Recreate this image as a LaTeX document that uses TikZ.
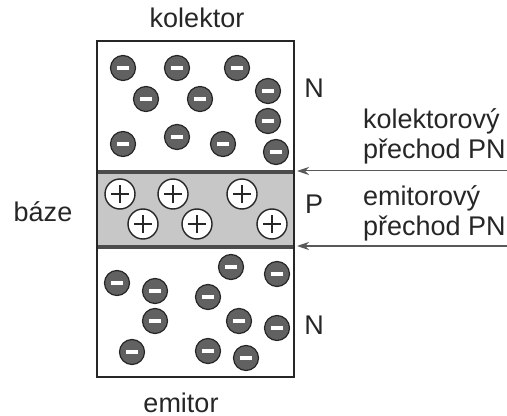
\documentclass[tikz,border=0pt]{standalone}
\usepackage{fontspec}
\setmainfont{Liberation Sans}
\usetikzlibrary{arrows.meta}

\begin{document}
\begin{tikzpicture}[x=.5pt,y=-.5pt,font=\fontsize{13.5}{15}\selectfont,text=black!85,
 electron/.style={circle,draw=black!85,fill=black!62,line width=.6pt,minimum size=12.5pt,inner sep=0pt,
  path picture={\fill[white] (path picture bounding box.center) ++(-3pt,-.8pt) rectangle ++(6pt,1.6pt);}},
 hole/.style={circle,draw=black!85,fill=white,line width=.7pt,minimum size=15pt,inner sep=0pt,
  path picture={\draw[line width=.7pt] (path picture bounding box.center) ++(-4.5pt,0) -- ++(9pt,0)
   (path picture bounding box.center) ++(0,-4.5pt) -- ++(0,9pt);}},
 junction/.style={black!70,line width=2pt},
 ptr/.style={draw=black!65,line width=.5pt,-{Stealth[length=6pt,width=4pt]}}]
\useasboundingbox (0,0) rectangle (507,416);
\fill[black!22] (97,172) rectangle (294,247);
\draw[junction] (97,172) -- (294,172);
\draw[junction] (97,247) -- (294,247);
\draw[black!85,line width=.75pt] (97,41) rectangle (294,377);
\foreach \x/\y [count=\i] in {123/68,177/68,237/68,146/99,200/99,268/91,268/121,123/144,177/137,223/144,276/152}
 \node[electron] (ek\i) at (\x,\y) {};
\foreach \x/\y [count=\i] in {120/194,173/194,242/194,143/224,197/224,272/224}
 \node[hole] (hb\i) at (\x,\y) {};
\foreach \x/\y [count=\i] in {117/283,155/291,231/267,277/274,208/297,155/321,239/321,277/328,132/352,208/351,246/358}
 \node[electron] (ee\i) at (\x,\y) {};
\node (kol) at (197,18) {kolektor};
\node (emi) at (181,403) {emitor};
\node (baze) at (43,212) {báze};
\node (nk) at (314,88) {N};
\node (pb) at (314,204) {P};
\node (ne) at (314,325) {N};
\node[anchor=west,align=left] (kprech) at (356,136) {kolektorový\\přechod PN};
\node[anchor=west,align=left] (eprech) at (356,213) {emitorový\\přechod PN};
\coordinate (kjr) at (507,171);
\coordinate (kjl) at (297,171);
\coordinate (ejr) at (507,246);
\coordinate (ejl) at (297,246);
\draw[ptr] (kjr) -- (kjl);
\draw[ptr] (ejr) -- (ejl);
\end{tikzpicture}
\end{document}
